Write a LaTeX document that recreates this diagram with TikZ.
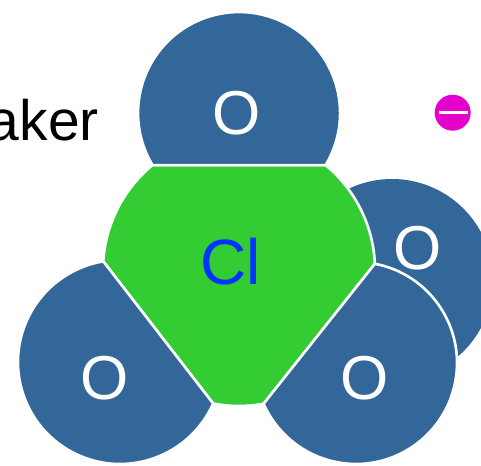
\documentclass[tikz,border=0pt]{standalone}
\usepackage{fontspec}
\setmainfont{Liberation Sans}
\definecolor{oxblue}{RGB}{51,103,153}
\definecolor{clgreen}{RGB}{51,204,51}
\definecolor{cllabel}{RGB}{0,51,255}
\definecolor{chargemag}{RGB}{229,0,204}
\begin{document}
\begin{tikzpicture}[x=1pt,y=-1pt,
  atom/.style={line width=2.6pt,draw=white,line join=round},
  oatom/.style={atom,fill=oxblue},
  olabel/.style={text=white,inner sep=0pt,font=\fontsize{62}{62}\selectfont},
  cllab/.style={text=cllabel,inner sep=0pt,font=\fontsize{64}{64}\selectfont}]
\useasboundingbox (0,0) rectangle (481,465);

% partly cut-off caption on the left
\node[anchor=base east,inner sep=0pt,font=\fontsize{57}{57}\selectfont] (cap) at (99,141) {aker};

% oxygen behind the chlorine
\fill[oxblue] (392,280) circle[radius=101];
\node[olabel] (oback) at (418,248) {O};

% chlorine, trimmed by the planes shared with the front oxygens
\path[atom,fill=clgreen]
  (325.6,165.1) arc[start angle=-50.46,end angle=-2.63,radius=136]
  -- (263.59,403.75) arc[start angle=79.58,end angle=100.95,radius=136]
  -- (103.28,261.38) arc[start angle=183.63,end angle=230.46,radius=136]
  -- cycle;
\node[cllab] (cl) at (231,262) {Cl};

% top oxygen
\path[oatom] (325.6,165.1) arc[start angle=31.03,end angle=-211.03,radius=101] -- cycle;
\node[olabel] (otop) at (237,113) {O};

% lower left oxygen
\path[oatom] (103.28,261.38) -- (213.16,403.52)
  arc[start angle=24.02,end angle=260.57,radius=102] -- cycle;
\node[olabel] (oleft) at (105,378) {O};

% lower right oxygen
\path[oatom] (263.59,403.75) -- (374.85,263.77)
  arc[start angle=-79.24,end angle=156.20,radius=101] -- cycle;
\node[olabel] (oright) at (365,378) {O};

% negative charge
\node[circle,fill=chargemag,minimum size=36pt,inner sep=0pt] (charge) at (452.7,112.7) {};
\draw[white,line width=2.7pt] ([xshift=-13.7pt]charge.center) -- ([xshift=14.8pt]charge.center);
\end{tikzpicture}
\end{document}
